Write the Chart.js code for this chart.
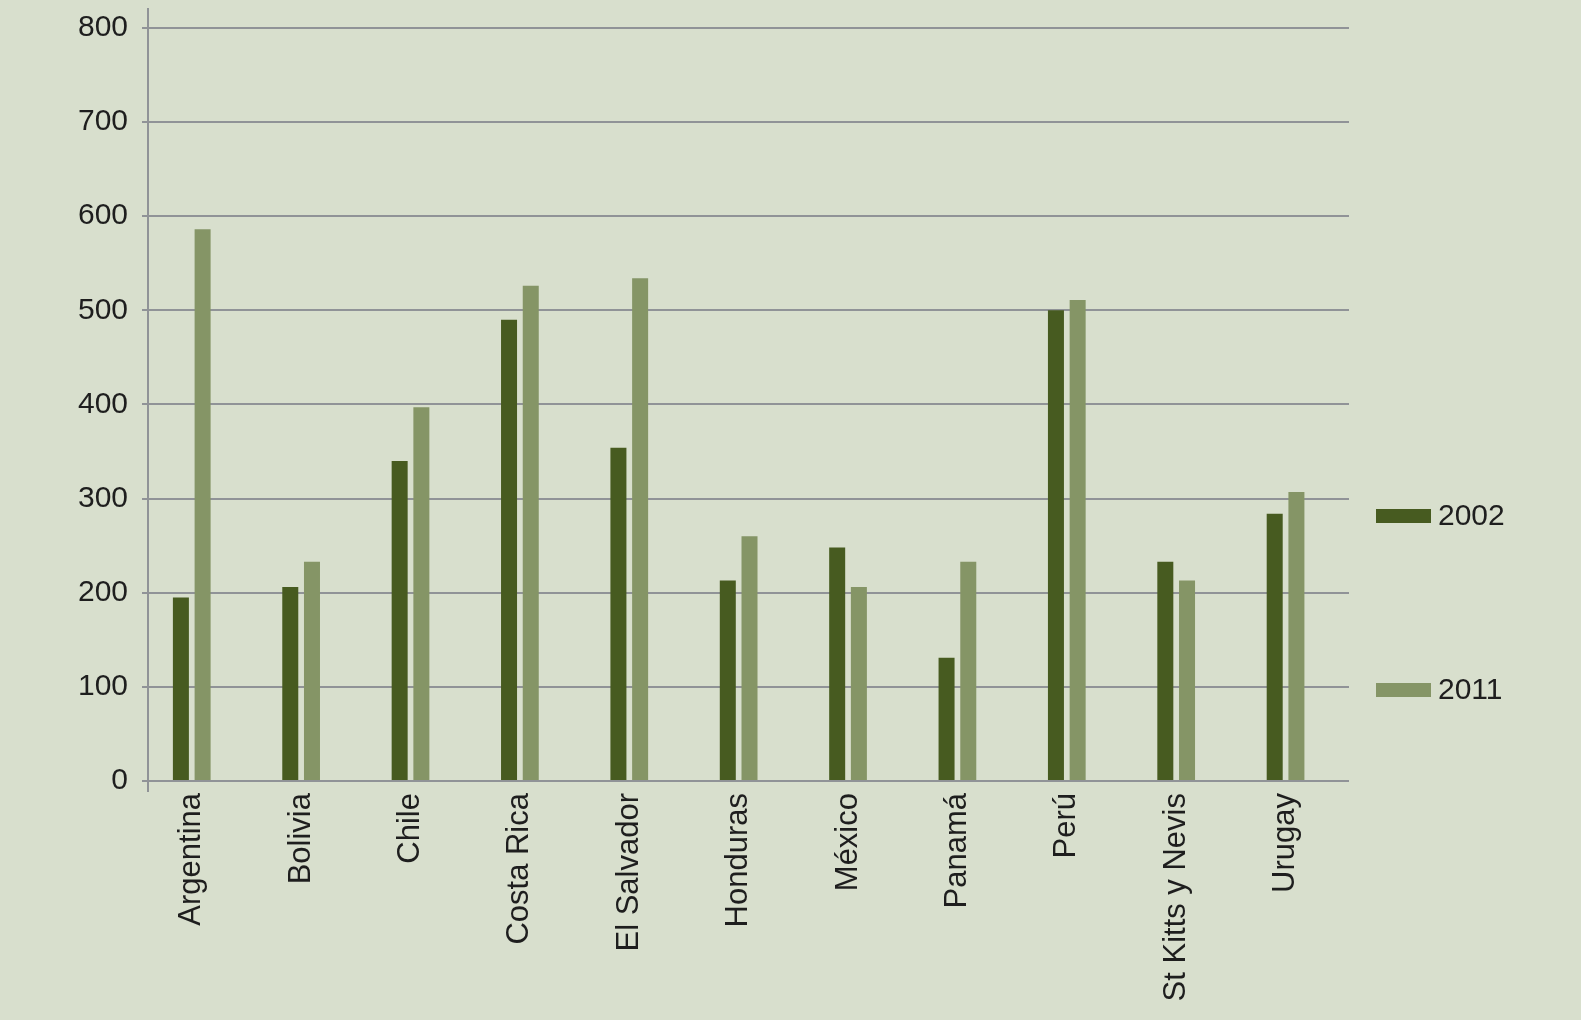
<!DOCTYPE html>
<html>
<head>
<meta charset="utf-8">
<script src="https://cdn.jsdelivr.net/npm/chart.js@4"></script>
<style>
    html, body { margin: 0; padding: 0; background: #d8dfcd; }
    #wrap { width: 1581px; height: 1020px; position: relative; }
</style>
</head>
<body>
<div id="wrap"><canvas id="grafico"></canvas></div>
<script>
    const categories = ['Argentina', 'Bolivia', 'Chile', 'Costa Rica', 'El Salvador', 'Honduras',
        'México', 'Panamá', 'Perú', 'St Kitts y Nevis', 'Urugay'];
    const seriesNames = ['2002', '2011'];
    const values2002 = [195, 206, 340, 490, 354, 213, 248, 131, 500, 233, 284];
    const values2011 = [586, 233, 397, 526, 534, 260, 206, 233, 511, 213, 307];
    const yTickValues = [0, 100, 200, 300, 400, 500, 600, 700, 800];

    const colors = ['#475b20', '#859566'];
    const gridColor = '#909397';
    const textColor = '#1e1e1e';
    const fontFamily = '"Liberation Sans", Arial, Helvetica, sans-serif';

    function toPoints(values) {
        return values.map(function (v, i) {
            return { x: i, y: v };
        });
    }

    // legenda à direita, desenhada à mão (duas entradas bem espaçadas)
    const sideLegend = {
        id: 'sideLegend',
        afterDraw: function (chart) {
            const ctx = chart.ctx;
            const area = chart.chartArea;
            const tops = [509, 683];
            ctx.save();
            ctx.font = '30px ' + fontFamily;
            ctx.textBaseline = 'middle';
            ctx.textAlign = 'left';
            chart.data.datasets.forEach(function (ds, i) {
                const x = area.right + 27;
                ctx.fillStyle = ds.backgroundColor;
                ctx.fillRect(x, tops[i], 55, 14);
                ctx.fillStyle = textColor;
                ctx.fillText(ds.label, x + 62, tops[i] + 8);
            });
            ctx.restore();
        }
    };

    new Chart(document.getElementById('grafico'), {
        type: 'bar',
        data: {
            datasets: [
                { label: seriesNames[0], data: toPoints(values2002), backgroundColor: colors[0] },
                { label: seriesNames[1], data: toPoints(values2011), backgroundColor: colors[1] }
            ]
        },
        options: {
            responsive: true,
            maintainAspectRatio: false,
            animation: false,
            events: [],
            categoryPercentage: 0.397,
            barPercentage: 0.737,
            layout: { padding: { top: 9, right: 232, bottom: 0, left: 0 } },
            plugins: {
                legend: { display: false },
                tooltip: { enabled: false }
            },
            scales: {
                x: {
                    type: 'linear',
                    offset: false,
                    min: -0.4,
                    max: 10.58,
                    afterBuildTicks: function (scale) {
                        scale.ticks = categories.map(function (c, i) { return { value: i }; });
                    },
                    afterFit: function (scale) {
                        scale.height = 229;
                        scale.paddingLeft = 0;
                        scale.paddingRight = 0;
                    },
                    grid: { display: false, drawTicks: false },
                    border: { display: false },
                    ticks: {
                        autoSkip: false,
                        minRotation: 90,
                        maxRotation: 90,
                        padding: 2,
                        color: textColor,
                        font: { family: fontFamily, size: 31 },
                        callback: function (value) { return categories[value]; }
                    }
                },
                y: {
                    min: -10.6,
                    max: 820,
                    afterBuildTicks: function (scale) {
                        scale.ticks = yTickValues.map(function (v) { return { value: v }; });
                    },
                    afterFit: function (scale) {
                        scale.width = 148;
                        scale.paddingTop = 0;
                        scale.paddingBottom = 0;
                    },
                    grid: { color: gridColor, lineWidth: 2, tickLength: 6 },
                    border: { display: true, color: gridColor, width: 2 },
                    ticks: {
                        padding: 14,
                        color: textColor,
                        font: { family: fontFamily, size: 30 }
                    }
                }
            }
        },
        plugins: [sideLegend]
    });
</script>
</body>
</html>
